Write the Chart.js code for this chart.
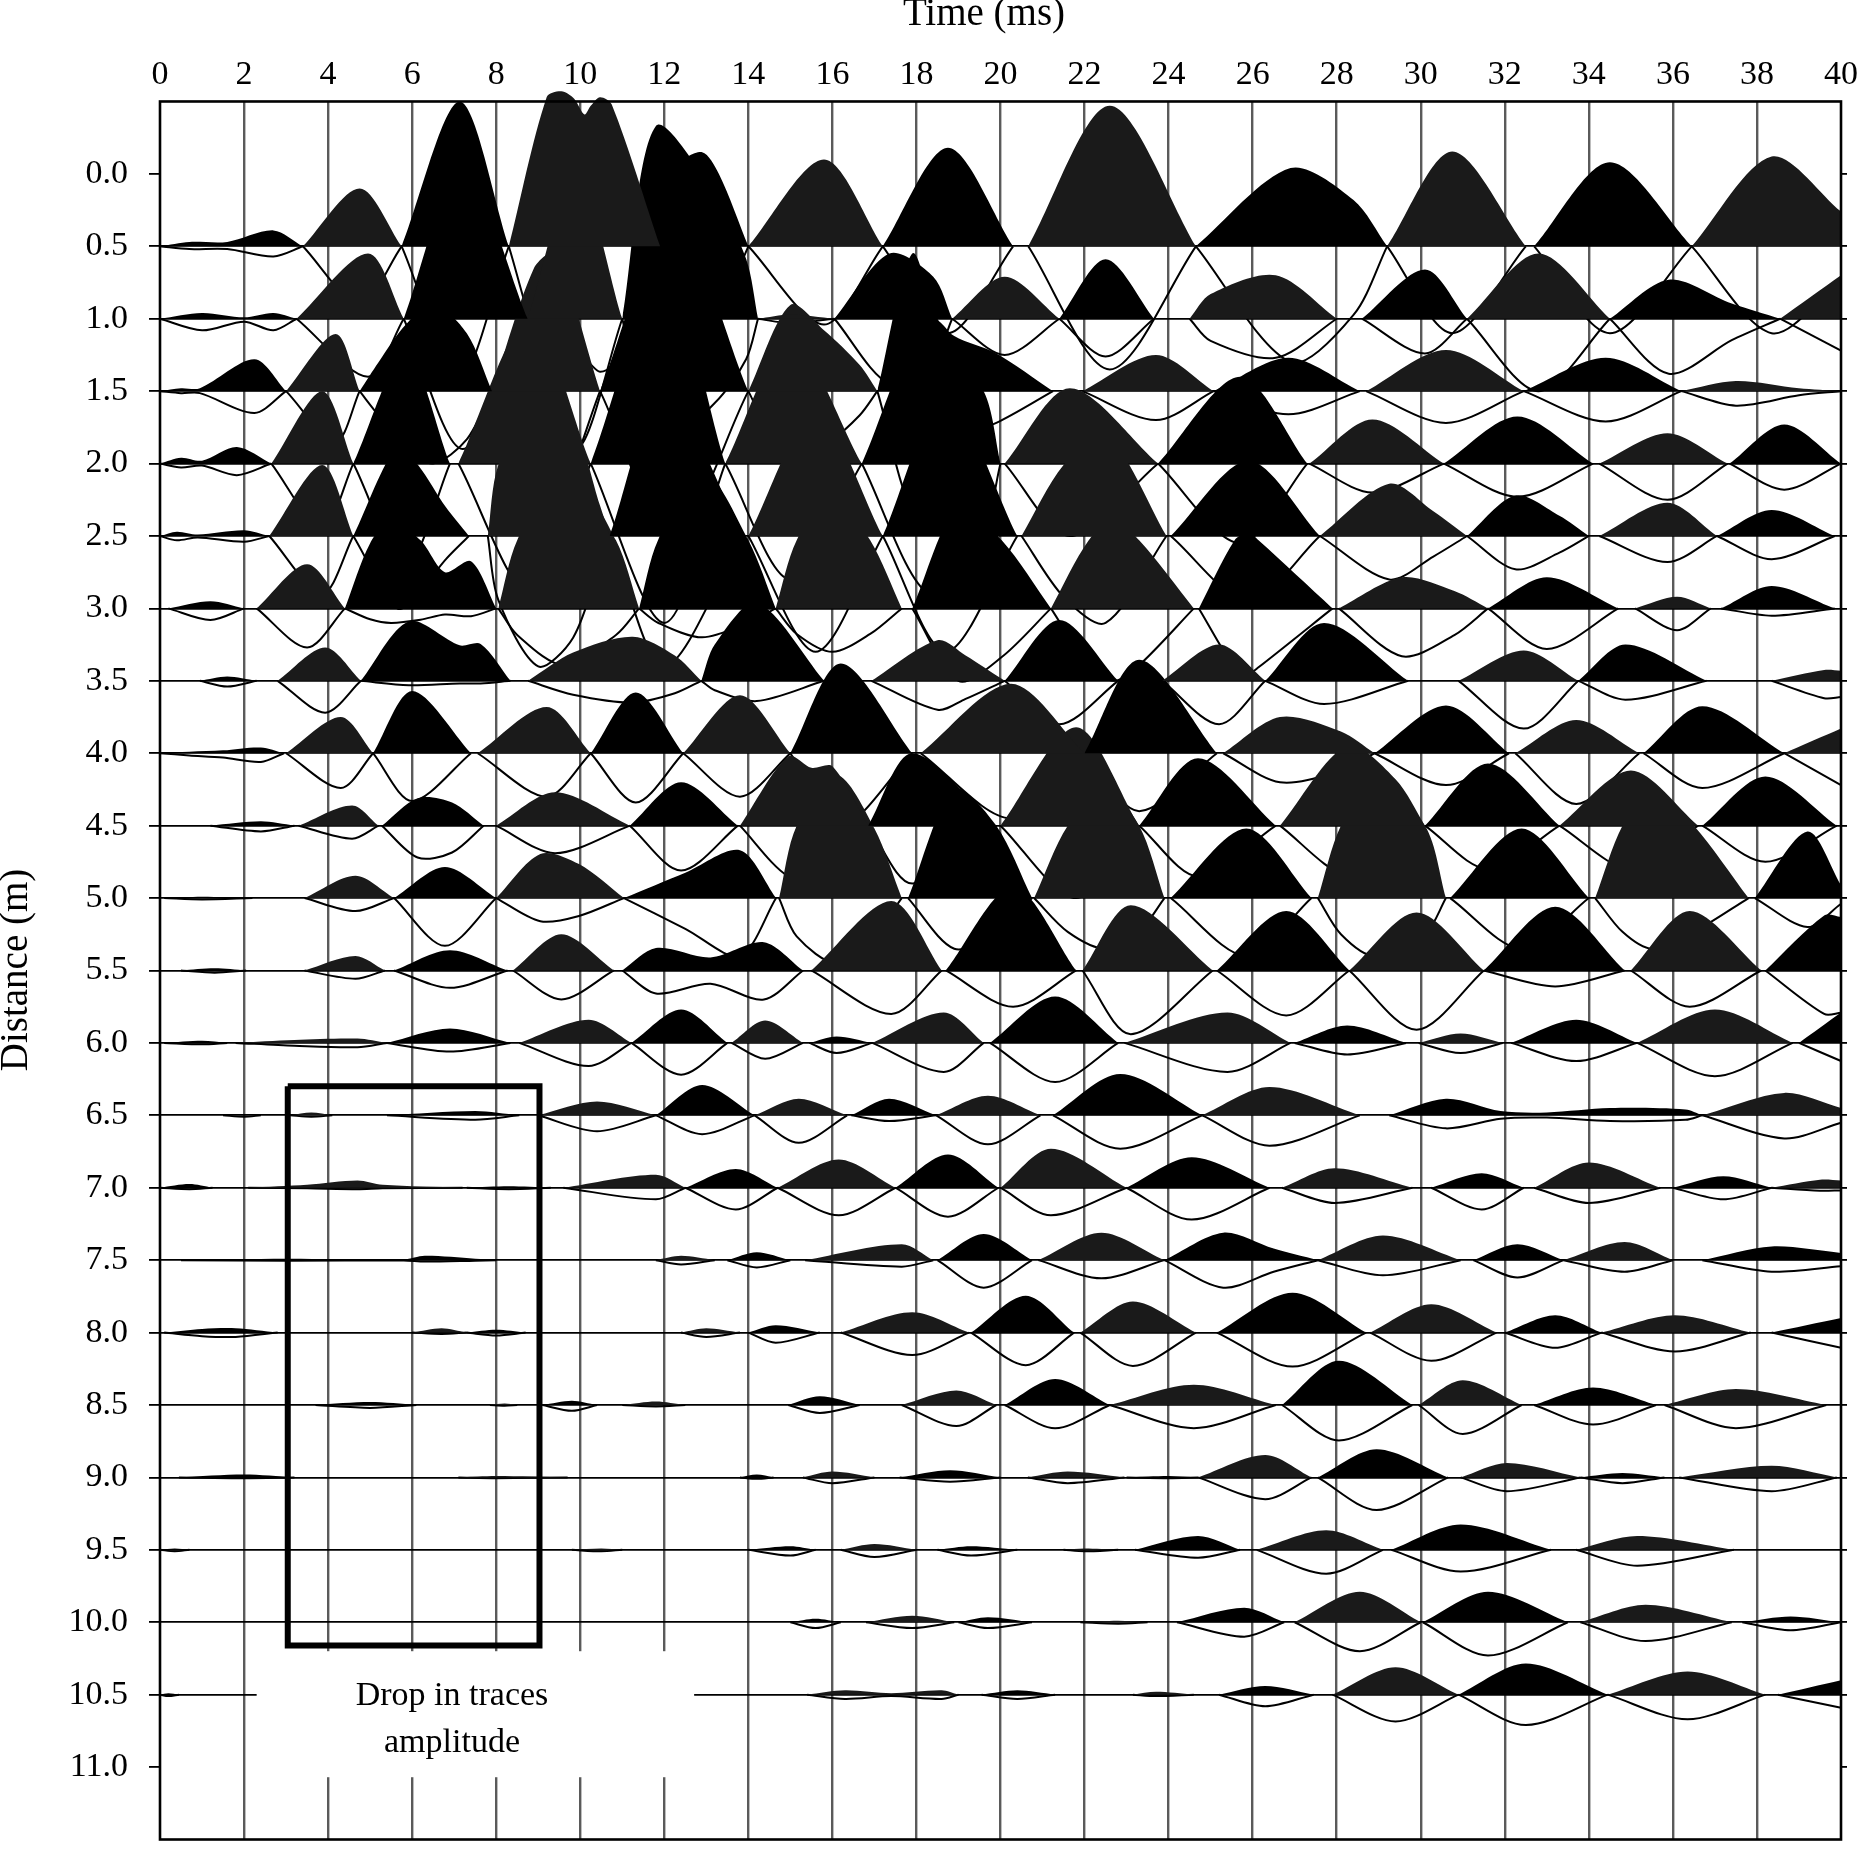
<!DOCTYPE html>
<html>
<head>
<meta charset="utf-8">
<title>Time (ms) / Distance (m)</title>
<script src="https://cdn.jsdelivr.net/npm/chart.js@4/dist/chart.umd.min.js"></script>
<style>
  html, body { margin: 0; background: #fff; }
  canvas { display: block; }
</style>
</head>
<body>
<canvas id="traces-chart" width="1872" height="1850"></canvas>
<script>
// every trace: [time ms, amplitude m] pairs, an amplitude of 0 ends a lobe
const trace05 = [[0,0],[.7,.03],[1.6,.03],[2.7,.11],[3.4,0],[4.75,.4],[5.75,0],[7.13,1],[8.3,0],[9.2,1.03],[9.55,1.07],[9.85,1.02],[10.1,.91],[10.25,.97],[10.47,1.03],[10.75,.98],[11.9,0],[12.3,.55],[12.9,.65],[13.3,.5],[14,0],[15.8,.6],[17.2,0],[18.75,.68],[20.3,0],[20.66,0],[22.6,.97],[24.65,0],[26.9,.54],[28.4,.32],[29.2,0],[30.75,.655],[32.5,0],[32.7,0],[34.5,.58],[36.45,0],[38.35,.62],[40,.24]];
const trace10 = [[0,0],[1,.04],[2,.01],[2.7,.04],[3.25,0],[4.95,.45],[5.8,0],[7.2,1.05],[8.75,0],[9.9,1],[11,0],[11.8,1.33],[13.2,.86],[13.95,.41],[14.23,0],[15,.03],[16.05,0],[17.36,.45],[18.4,.29],[18.85,0],[20.1,.29],[21.4,0],[22.5,.41],[23.65,0],[24.5,0],[25,.17],[26.55,.3],[28,0],[28.6,0],[30.1,.34],[31.1,0],[32.8,.45],[34.5,0],[35.9,.27],[37.4,.105],[38.55,0],[40,.3]];
const trace15 = [[0,0],[.5,.02],[.95,.02],[2.25,.22],[3,0],[4.18,.395],[4.75,0],[5.2,.2],[5.85,.46],[6.5,.6],[7.3,.4],[7.9,0],[8.9,.85],[9.4,.95],[10.47,0],[12.2,1.2],[14,0],[15,.595],[15.8,.42],[16.65,.18],[17.07,0],[17.9,.95],[18.5,.5],[18.9,.38],[19.9,.26],[21.25,0],[21.95,0],[23.7,.25],[25.07,0],[26.85,.23],[28.55,0],[28.7,0],[30.6,.285],[32.45,0],[34.4,.23],[36.2,0],[37.5,.07],[39,.02],[40,0]];
const trace20 = [[0,0],[.5,.04],[1,.02],[1.83,.115],[2.65,0],[3.86,.5],[4.6,0],[5.85,.76],[6.9,0],[7.1,0],[8.8,1],[10.25,0],[12,1.3],[13.45,0],[15,.85],[16.7,0],[18.3,1],[19.6,.5],[20,0],[20.1,0],[21.65,.52],[23.75,0],[25.7,.6],[27.3,0],[27.35,0],[28.85,.305],[30.55,0],[32.3,.325],[34.1,0],[34.25,0],[35.87,.21],[37.3,0],[37.35,0],[38.65,.27],[40,0]];
const trace25 = [[0,0],[.4,.03],[.9,.01],[2,.04],[2.6,0],[3.86,.49],[4.6,0],[5.65,.62],[6.14,.49],[6.8,.2],[7.35,0],[7.8,0],[8.05,.49],[9,1],[9.83,.78],[10.47,.21],[10.7,0],[12,1],[13.88,0],[14,0],[15.6,.85],[17.2,0],[18.7,.95],[20.4,0],[20.5,0],[21.5,.49],[22.5,.7],[23.95,0],[24.05,0],[25.9,.52],[27.6,0],[29.25,.36],[30.3,.17],[31.1,0],[32.25,.28],[33.3,.14],[34,0],[34.25,0],[35.87,.23],[37.05,0],[38.35,.18],[39.85,0]];
const trace30 = [[.2,0],[1.2,.05],[2,0],[2.3,0],[3.5,.305],[4.4,0],[5,.45],[5.5,.6],[6.2,.47],[6.78,.25],[7.4,.325],[8,0],[8.05,0],[8.5,.47],[9.6,1],[10.85,.47],[11.4,0],[11.85,.47],[12.9,.95],[14,.47],[14.65,0],[15.15,.47],[16,.8],[16.9,.47],[17.65,0],[17.9,0],[19,.7],[20.03,.47],[21.2,0],[22.1,.47],[22.7,.6],[23.3,.47],[24.6,0],[24.72,0],[25.57,.47],[25.9,.52],[26.14,.47],[27.9,0],[28.05,0],[29.55,.215],[30.8,.12],[31.6,0],[33,.215],[34.7,0],[35.1,0],[36.1,.08],[36.9,0],[37.15,0],[38.35,.155],[39.85,0]];
const trace35 = [[.95,0],[1.6,.03],[2.3,0],[2.8,0],[3.93,.23],[4.78,0],[5.92,.41],[7.13,.245],[7.63,.255],[8.34,0],[8.76,0],[9.83,.195],[11.25,.305],[12.25,.175],[12.88,0],[13.2,.25],[14.2,.54],[15.8,0],[16.93,0],[18.5,.28],[19.17,.175],[20.1,0],[21.4,.42],[22.8,0],[23.85,0],[25.2,.25],[26.3,0],[27.7,.4],[29.7,0],[30.9,0],[32.45,.21],[33.75,0],[34.87,.25],[36.8,0],[38.35,0],[39.6,.075],[40,.07]];
const trace40 = [[0,0],[.7,.01],[1.5,.02],[2.4,.04],[2.95,0],[3,0],[4.3,.25],[5.07,0],[6,.43],[7.4,0],[7.56,0],[9.2,.32],[10.25,0],[11.32,.42],[12.45,0],[13.8,.4],[15,0],[16.2,.62],[17.9,0],[18.1,0],[20.25,.48],[22,0],[23.3,.645],[25.15,0],[25.3,0],[26.65,.25],[28.1,.15],[28.9,0],[30.6,.33],[32.1,0],[32.25,0],[33.7,.23],[35.2,0],[35.3,0],[36.7,.325],[38.65,0],[40,.17]];
const trace45 = [[1.2,0],[2.4,.03],[3.2,0],[3.3,0],[4.57,.14],[5.2,0],[5.28,0],[6.13,.19],[6.95,.16],[7.7,0],[8,0],[9.4,.23],[11.18,0],[12.4,.3],[13.75,0],[13.8,0],[14.95,.48],[15.5,.4],[16,.41],[16.85,0],[17.9,.5],[19.9,0],[20,0],[21.8,.68],[23.3,0],[24.7,.465],[26.55,0],[26.65,0],[28.25,.55],[29.4,.32],[30.1,0],[31.6,.43],[33.3,0],[35,.38],[36.6,0],[36.7,0],[38.2,.34],[39.9,0]];
const trace50 = [[.1,0],[1,.01],[2.2,0],[3.44,0],[4.65,.155],[5.57,0],[6.78,.215],[8,0],[9.05,.305],[9.97,.235],[11.04,0],[12.5,.175],[13.8,.33],[14.66,0],[14.73,0],[15.15,.5],[16.1,.85],[17,.48],[17.65,0],[17.8,0],[18.9,.75],[19.9,.5],[20.75,0],[20.8,0],[21.6,.5],[22.5,.75],[23.3,.5],[23.9,0],[24.05,0],[25.85,.48],[27.4,0],[27.55,0],[28.1,.5],[28.9,.8],[30.1,.5],[30.6,0],[30.7,0],[32.4,.48],[34,0],[34.15,0],[34.8,.5],[35.5,.75],[36.5,.5],[37.8,0],[37.95,0],[39.2,.46],[40,.09]];
const trace55 = [[.5,0],[1.3,.015],[2.05,0],[3.44,0],[4.65,.1],[5.35,0],[5.57,0],[6.9,.14],[8.27,0],[8.4,0],[9.55,.25],[10.8,0],[11,0],[11.8,.155],[13.1,.09],[14.37,.195],[15.3,0],[15.5,0],[17.4,.48],[18.6,0],[18.7,0],[20.3,.58],[21.8,0],[21.95,0],[23.1,.45],[25.05,0],[25.15,0],[26.8,.41],[28.3,0],[29.9,.4],[31.5,0],[33.2,.44],[34.85,0],[35,0],[36.4,.41],[38.1,0],[38.2,0],[39.6,.38],[40,.37]];
const trace60 = [[.1,0],[1,.015],[1.6,0],[1.8,0],[3.2,.02],[4.7,.03],[5.4,0],[6.9,.1],[8.34,0],[8.55,0],[10.2,.16],[11.22,0],[12.4,.23],[13.5,0],[13.6,0],[14.4,.155],[15.3,0],[15.45,0],[16.1,.045],[16.95,0],[18.65,.21],[19.6,0],[19.75,0],[21.3,.32],[22.8,0],[22.95,0],[25.4,.21],[26.9,0],[27,0],[28.25,.12],[29.65,0],[29.95,0],[30.95,.065],[31.95,0],[32.15,0],[33.7,.16],[35.15,0],[37,.23],[38.85,0],[39,0],[40,.21]];
const trace65 = [[1.5,0],[2,.01],[2.4,0],[3.1,0],[3.6,.02],[4.1,0],[5.4,0],[7.5,.03],[8.55,0],[9,0],[10.4,.095],[11.8,0],[12.9,.21],[14.15,0],[15.2,.115],[16.35,0],[16.45,0],[17.35,.115],[18.47,0],[19.7,.135],[20.95,0],[21.25,0],[22.85,.285],[24.8,0],[26.4,.195],[28.55,0],[29.25,0],[30.6,.115],[31.9,.03],[33,.02],[34.5,.05],[36.3,.04],[36.7,0],[38.65,.155],[40,.05]];
const trace70 = [[0,0],[.7,.025],[1.25,0],[2.1,0],[3.5,.02],[4.7,.05],[5.3,.02],[7.2,0],[7.3,0],[8.3,.01],[9.3,0],[9.6,0],[11.8,.09],[12.5,0],[13.7,.13],[14.7,0],[16.15,.195],[17.5,0],[18.75,.23],[19.95,0],[20,0],[21.2,.27],[23,0],[24.55,.21],[26.4,0],[26.7,0],[27.95,.135],[29.8,0],[30.25,0],[31.45,.1],[32.45,0],[32.7,0],[34,.175],[35.7,0],[36,0],[37.2,.08],[38.35,0],[39.5,.055],[40,.05]];
const trace75 = [[.5,0],[3,.01],[5.8,.005],[6.3,.03],[7.5,.01],[8,0],[11.8,0],[12.4,.03],[13.2,0],[13.5,0],[14.2,.055],[15,0],[15.35,0],[17.65,.11],[18.4,0],[18.5,0],[19.6,.18],[20.75,0],[20.9,0],[22.4,.19],[23.9,0],[25.3,.19],[26.5,.08],[27.55,0],[29.1,.17],[30.95,0],[31.25,0],[32.3,.11],[33.4,0],[34.85,.125],[36,0],[36.7,0],[38.35,.095],[40,.05]];
const trace80 = [[.1,0],[1,.025],[1.8,.03],[2.8,0],[6,0],[6.7,.03],[7.3,0],[8,.02],[8.7,0],[12.4,0],[13,.03],[13.8,0],[14,0],[14.65,.05],[15.7,0],[16.2,0],[17.9,.14],[19.25,0],[19.3,0],[20.6,.255],[21.75,0],[21.9,0],[23.15,.215],[24.65,0],[25.15,0],[26.95,.275],[28.7,0],[28.8,0],[30.25,.195],[31.8,0],[32,0],[33.2,.12],[34.3,0],[36.05,.12],[37.85,0],[38.35,0],[40,.1]];
const trace85 = [[3.7,0],[5,.02],[6.1,0],[7.85,0],[8.2,.01],[8.5,0],[9.1,0],[9.8,.03],[10.4,0],[11,0],[11.8,.025],[12.5,0],[14.95,0],[15.7,.06],[16.65,0],[17.65,0],[18.95,.1],[19.9,0],[20.1,0],[21.3,.18],[22.6,0],[24.6,.14],[26.55,0],[26.7,0],[28.05,.305],[29.8,0],[29.95,0],[31,.17],[32.4,0],[32.7,0],[34.1,.12],[35.6,0],[35.8,0],[37.5,.11],[39.65,0]];
const trace90 = [[.45,0],[2,.02],[3.2,0],[7.1,0],[8,.01],[9.7,0],[13.8,0],[14.2,.02],[14.6,0],[15.3,0],[16,.04],[17,0],[17.6,0],[18.8,.05],[20,0],[20.65,0],[21.6,.04],[22.95,0],[23,0],[24,.01],[24.7,0],[26.3,.155],[27.4,0],[27.55,0],[28.95,.195],[30.65,0],[30.95,0],[32.05,.1],[33.8,0],[34.8,.03],[35.8,0],[36.15,0],[38.35,.08],[39.9,0]];
const trace95 = [[0,0],[.35,.01],[.7,0],[9.8,0],[10.5,.01],[11,0],[14,0],[15,.025],[15.6,0],[16.2,0],[17,.04],[18,0],[18.5,0],[19.3,.025],[20.4,0],[21.5,0],[22,.01],[22.8,0],[23.2,0],[24.7,.095],[25.7,0],[26.1,0],[27.75,.135],[29.1,0],[29.3,0],[30.95,.175],[33.1,0],[33.7,0],[35.15,.095],[37.45,0]];
const trace100 = [[15,0],[15.6,.025],[16.2,0],[16.8,0],[17.9,.045],[18.9,0],[19,0],[19.7,.035],[20.75,0],[21.9,0],[22.8,.01],[23.5,0],[24.2,0],[25.8,.1],[26.75,0],[27,0],[28.55,.21],[30,0],[30.05,0],[31.6,.21],[33.5,0],[33.8,0],[35.35,.12],[37.4,0],[37.65,0],[38.8,.04],[40,0]];
const trace105 = [[0,0],[.2,.01],[.45,0],[15.4,0],[16.3,.03],[17.4,.01],[18.6,.03],[19,0],[19.55,0],[20.4,.03],[21.3,0],[23.15,0],[23.7,.02],[24.6,0],[25.2,0],[26.3,.06],[27.45,0],[27.9,0],[29.4,.19],[30.9,0],[32.5,.215],[34.45,0],[36.35,.16],[38.2,0],[38.5,0],[40,.1]];

// depth of the outline under the baseline, one value per lobe, in metres
const depth05 = [.07,.4,.9,.9,.6,.54,.6,.85,.8,.6,.6,.6];
const depth10 = [.08,.4,.9,.9,.9,.03,.45,.25,.26,.27,.24,.5,.38,.22];
const depth15 = [.15,.35,.5,.8,1,.55,.8,.2,.16,.22,.21,.1];
const depth20 = [.08,.45,.7,.9,1.1,.8,.9,.5,.55,.2,.23,.25,.18];
const depth25 = [.04,.4,.5,.9,.9,.8,.8,.6,.45,.3,.23,.18,.16];
const depth30 = [.08,.27,.1,.39,.2,.3,.5,.5,.45,.33,.28,.15,.05];
const depth35 = [.04,.22,.03,.15,.14,.2,.3,.3,.16,.33,.13,.12];
const depth40 = [.06,.24,.33,.3,.34,.3,.5,.45,.4,.2,.22,.35,.24,.22];
const depth45 = [.04,.09,.22,.19,.31,.35,.4,.5,.35,.35,.3,.3,.25];
const depth50 = [.01,.09,.33,.16,.4,.45,.35,.35,.4,.4,.35,.35,.2];
const depth55 = [.015,.057,.12,.2,.2,.3,.25,.44,.31,.41,.11,.25,.3];
const depth60 = [.01,.03,.06,.16,.22,.11,.07,.2,.27,.2,.08,.07,.125,.23,.125];
const depth65 = [.01,.01,.03,.11,.13,.19,.04,.2,.23,.21,.09,.16];
const depth70 = [.01,.01,.01,.08,.15,.19,.2,.19,.22,.105,.15,.105,.08,.02];
const depth75 = [.01,.03,.05,.045,.19,.125,.19,.105,.12,.08,.08];
const depth80 = [.03,.01,.02,.03,.07,.155,.225,.23,.235,.195,.105,.13,.105];
const depth85 = [.02,.005,.04,.01,.055,.145,.16,.16,.245,.2,.135,.16];
const depth90 = [.005,.005,.01,.04,.03,.04,.005,.15,.225,.095,.04,.095];
const depth95 = [.01,.01,.04,.05,.04,.01,.055,.165,.15,.11];
const depth100 = [.04,.04,.04,.01,.1,.2,.23,.13,.055];
const depth105 = [.01,.03,.03,.01,.08,.185,.21,.17,.09];

const baselines = [.5,1,1.5,2,2.5,3,3.5,4,4.5,5,5.5,6,6.5,7,7.5,8,8.5,9,9.5,10,10.5];
const traces = [trace05,trace10,trace15,trace20,trace25,trace30,trace35,trace40,trace45,trace50,trace55,trace60,trace65,trace70,trace75,trace80,trace85,trace90,trace95,trace100,trace105];
const depths = [depth05,depth10,depth15,depth20,depth25,depth30,depth35,depth40,depth45,depth50,depth55,depth60,depth65,depth70,depth75,depth80,depth85,depth90,depth95,depth100,depth105];

const distanceTicks = [0,.5,1,1.5,2,2.5,3,3.5,4,4.5,5,5.5,6,6.5,7,7.5,8,8.5,9,9.5,10,10.5,11];
const boxTimes = [3.04,9.03,9.03,3.04,3.04];
const boxDistances = [6.3,6.3,10.16,10.16,6.3];
const noteLines = ['Drop in traces', 'amplitude'];

const SERIF = '"Liberation Serif", "Times New Roman", serif';
const BLACK = '#000000';
const DARK = '#1a1a1a';

const splitLobes = (trace) => {
    const lobes = [];
    let current = [];
    trace.forEach(p => {
        if (p[1] === 0) {
            if (current.some(q => q[1] > 0)) {
                current.push(p);
                lobes.push(current);
            }
            current = [p];
        } else {
            current.push(p);
        }
    });
    if (current.some(q => q[1] > 0)) lobes.push(current);
    return lobes;
};

const datasets = [];
traces.forEach((trace, i) => {
    const base = baselines[i];
    splitLobes(trace).forEach((lobe, j) => {
        const color = j % 2 === 0 ? BLACK : DARK;
        const peak = Math.max(...lobe.map(p => p[1]));
        const scale = depths[i][j] / peak;
        datasets.push({
            data: lobe.map(p => ({ x: p[0], y: base + p[1] * scale })),
            borderColor: BLACK,
            borderWidth: 2,
            fill: false,
            order: 1000
        });
        datasets.push({
            data: lobe.map(p => ({ x: p[0], y: base - p[1] })),
            borderWidth: 0,
            borderColor: 'transparent',
            fill: { target: { value: base }, above: color, below: color },
            order: i + 1
        });
    });
});

datasets.push({
    data: boxTimes.map((t, i) => ({ x: t, y: boxDistances[i] })),
    borderColor: BLACK,
    borderWidth: 6,
    borderJoinStyle: 'miter',
    tension: 0,
    fill: false,
    order: 0
});

const framePlugin = {
    id: 'frame',
    beforeDatasetsDraw(chart) {
        const { ctx, chartArea, scales } = chart;
        const top = scales.y.getPixelForValue(-.5);
        ctx.save();
        ctx.fillStyle = '#fff';
        ctx.fillRect(chartArea.left - 5, chartArea.top - 2, chartArea.right - chartArea.left + 10, top - chartArea.top + 2);
        ctx.restore();
    },
    afterDatasetsDraw(chart) {
        const { ctx, chartArea, scales } = chart;
        const x = scales.x;
        const y = scales.y;
        const top = y.getPixelForValue(-.5);
        ctx.save();
        // white patch behind the note
        ctx.fillStyle = '#fff';
        const px = x.getPixelForValue(2.3);
        const py = y.getPixelForValue(10.2);
        ctx.fillRect(px, py, x.getPixelForValue(12.71) - px, y.getPixelForValue(11.07) - py);
        ctx.fillStyle = BLACK;
        ctx.textAlign = 'center';
        ctx.textBaseline = 'middle';
        ctx.font = '34px ' + SERIF;
        noteLines.forEach((line, i) => ctx.fillText(line, 452, 1696 + i * 47));
        // plot frame and axis titles
        ctx.strokeStyle = BLACK;
        ctx.lineWidth = 2.6;
        ctx.strokeRect(chartArea.left, top, chartArea.right - chartArea.left, chartArea.bottom - top);
        ctx.font = '39px ' + SERIF;
        ctx.fillText('Time (ms)', 984, 15);
        ctx.translate(17, 970);
        ctx.rotate(-Math.PI / 2);
        ctx.fillText('Distance (m)', 0, 0);
        ctx.restore();
    }
};

new Chart(document.getElementById('traces-chart').getContext('2d'), {
    type: 'line',
    data: { datasets },
    plugins: [framePlugin],
    options: {
        responsive: false,
        devicePixelRatio: 1,
        animation: false,
        events: [],
        layout: { padding: { bottom: 10.5 } },
        elements: {
            point: { radius: 0 },
            line: { tension: .3 }
        },
        plugins: { legend: { display: false }, tooltip: { enabled: false } },
        datasets: { line: { clip: false } },
        scales: {
            x: {
                type: 'linear',
                position: 'top',
                min: 0,
                max: 40,
                afterFit: (s) => { s.height = 87; s.paddingLeft = 0; s.paddingRight = 0; },
                border: { display: false },
                grid: {
                    drawTicks: false,
                    lineWidth: 2.4,
                    color: (c) => (c.tick.value === 0 || c.tick.value === 40 ? 'transparent' : '#5a5a5a')
                },
                ticks: {
                    stepSize: 2,
                    autoSkip: false,
                    maxRotation: 0,
                    padding: -8,
                    color: BLACK,
                    font: { family: SERIF, size: 34 }
                }
            },
            y: {
                position: 'left',
                reverse: true,
                min: -.6,
                max: 11.5,
                afterFit: (s) => { s.width = 160; s.paddingTop = 0; s.paddingBottom = 0; },
                afterBuildTicks: (s) => { s.ticks = distanceTicks.map(v => ({ value: v })); },
                border: { display: false },
                grid: {
                    tickLength: 11,
                    lineWidth: 1.8,
                    color: (c) => (baselines.includes(c.tick.value) ? BLACK : 'transparent'),
                    tickColor: BLACK
                },
                ticks: {
                    autoSkip: false,
                    padding: 21,
                    color: BLACK,
                    font: { family: SERIF, size: 34 },
                    callback: (v) => Number(v).toFixed(1)
                }
            },
            right: {
                position: 'right',
                reverse: true,
                min: -.6,
                max: 11.5,
                afterFit: (s) => { s.width = 31; s.paddingTop = 0; s.paddingBottom = 0; },
                afterBuildTicks: (s) => { s.ticks = distanceTicks.map(v => ({ value: v })); },
                border: { display: false },
                grid: {
                    drawOnChartArea: false,
                    tickLength: 6,
                    lineWidth: 1.8,
                    tickColor: BLACK
                },
                ticks: { display: false }
            }
        }
    }
});
</script>
</body>
</html>
